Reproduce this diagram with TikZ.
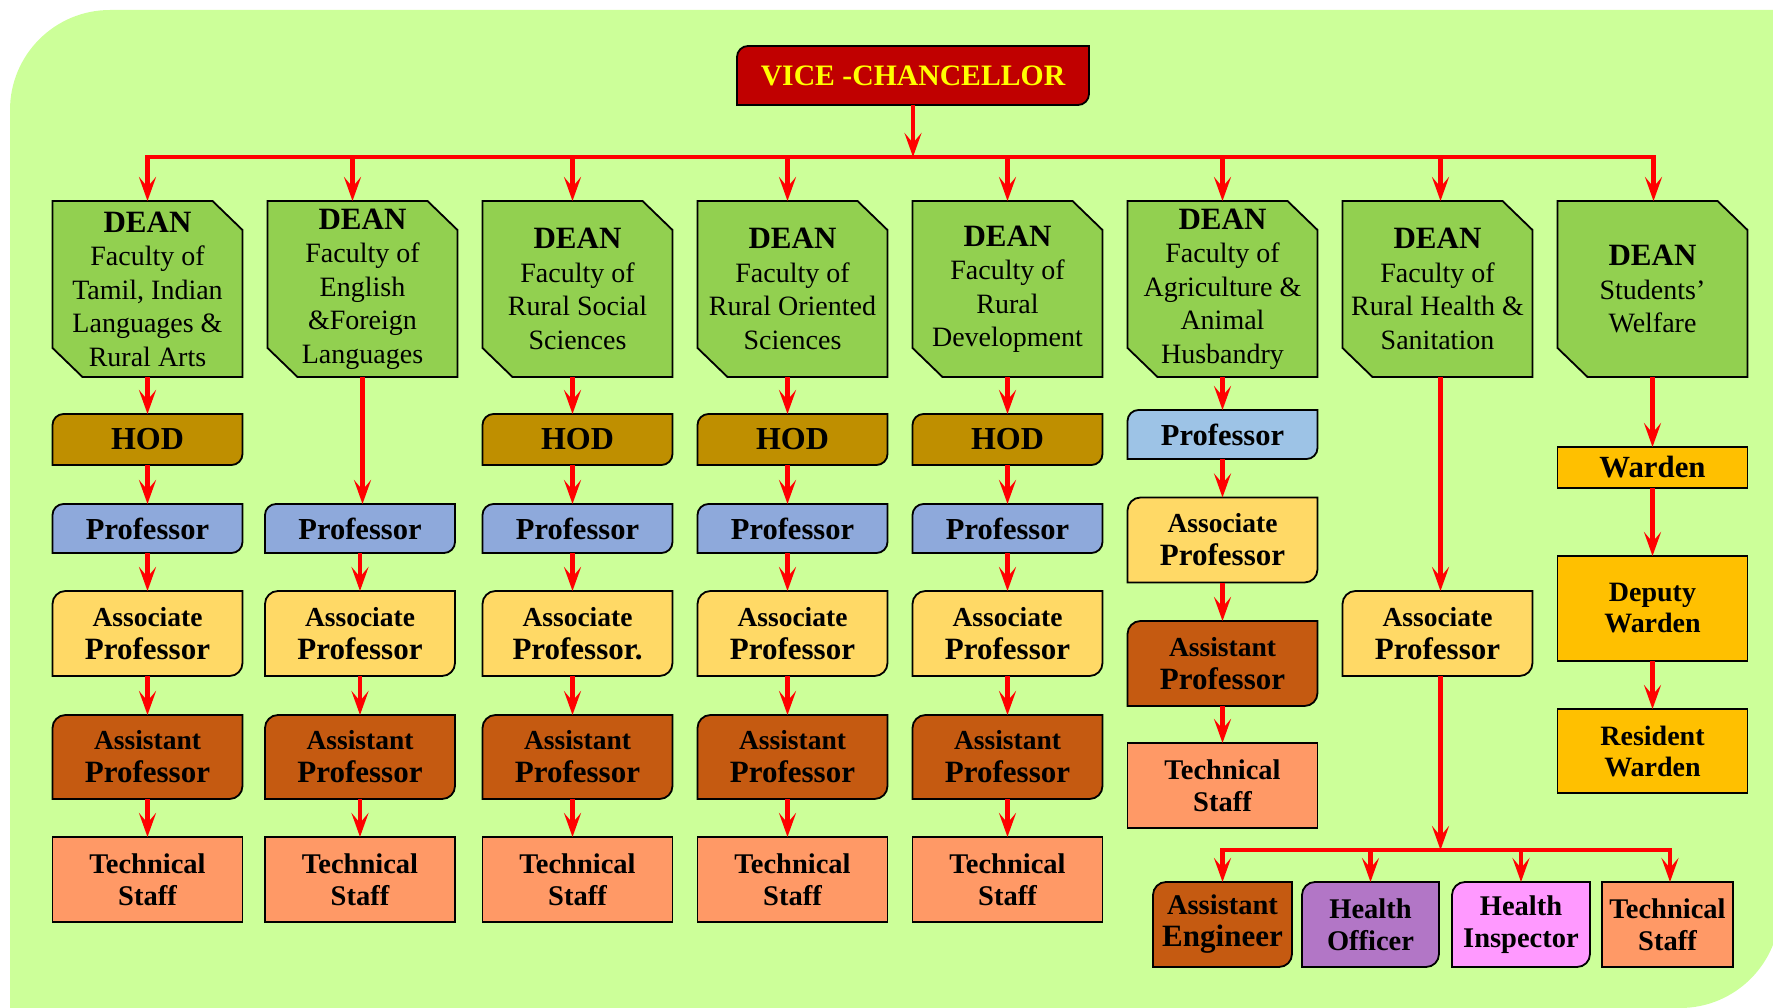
\documentclass[tikz,border=0pt]{standalone}
\usepackage{fontspec}
\setmainfont{Liberation Serif}
\usetikzlibrary{arrows.meta,calc}
\definecolor{bgc}{HTML}{CCFF99}
\definecolor{vcc}{HTML}{C00000}
\definecolor{vctext}{HTML}{FFFF00}
\definecolor{deanc}{HTML}{92D050}
\definecolor{hodc}{HTML}{BF8F00}
\definecolor{profc}{HTML}{8EA9DB}
\definecolor{profb}{HTML}{9DC3E6}
\definecolor{assocc}{HTML}{FFD966}
\definecolor{asstc}{HTML}{C55A11}
\definecolor{techc}{HTML}{FF9966}
\definecolor{wardc}{HTML}{FFC000}
\definecolor{hoc}{HTML}{B276C6}
\definecolor{hic}{HTML}{FF99FF}
\definecolor{arrred}{HTML}{FF0000}
\pgfdeclarelayer{bglayer}
\pgfdeclarelayer{boxlayer}
\pgfsetlayers{bglayer,boxlayer,main}
\tikzset{
  bx/.style={inner sep=0pt, outer sep=0pt, align=center, minimum width=190pt, text=black},
  deanbox/.style={bx, minimum height=176pt, font=\fontsize{28}{33.5}\selectfont},
  hodbox/.style={bx, minimum height=51pt, font=\bfseries\fontsize{32}{33}\selectfont},
  profbox/.style={bx, minimum height=49pt, font=\bfseries\fontsize{30.5}{33}\selectfont},
  twobox/.style={bx, minimum height=85pt, font=\bfseries\fontsize{27.5}{33}\selectfont},
  techbox/.style={bx, minimum height=85pt, font=\bfseries\fontsize{28.5}{32}\selectfont},
  lowbox/.style={bx, minimum height=85pt, font=\bfseries\fontsize{28.5}{32}\selectfont},
  wardbox/.style={bx, font=\bfseries\fontsize{28}{31}\selectfont},
  arr/.style={draw=arrred, line width=4.5pt, -{Stealth[length=24pt,width=17pt,inset=10pt]}},
  rl/.style={draw=arrred, line width=4.5pt, line cap=rect},
  boxline/.style={draw=black, line width=1.8pt, line join=miter},
}
\newcommand\tlbr[3]{%
  \draw[boxline,fill=#2] (#1.south west) -- ([yshift=-#3]#1.north west)
    arc[start angle=180,end angle=90,radius=#3] -- (#1.north east)
    -- ([yshift=#3]#1.south east) arc[start angle=0,end angle=-90,radius=#3] -- cycle;}
\newcommand\chambox[2]{%
  \draw[boxline,fill=#2] ([yshift=29pt]#1.south west) -- (#1.north west)
    -- ([xshift=-30pt]#1.north east) -- ([yshift=-29pt]#1.north east)
    -- (#1.south east) -- ([xshift=30pt]#1.south west) -- cycle;}
\newcommand\plainbox[2]{%
  \draw[boxline,fill=#2] (#1.south west) rectangle (#1.north east);}
\newcommand\HL[1]{{\fontsize{31}{33}\selectfont #1}}
\newcommand\DN{{\bfseries\fontsize{31}{33.5}\selectfont DEAN}}
\begin{document}
\begin{tikzpicture}[x=1pt,y=1pt]
\useasboundingbox (0,0) rectangle (1773,-1008);
% ---------- nodes
\node[bx, minimum width=352pt, minimum height=59pt, text=vctext,
      font=\bfseries\fontsize{29.7}{34}\selectfont] (vc) at (913,-75.5) {VICE -CHANCELLOR};
\node[deanbox] (d1) at (147.5,-289) {\DN\\Faculty of\\Tamil, Indian\\Languages \&\\Rural Arts};
\node[deanbox] (d2) at (362.5,-289) {\DN\\Faculty of\\English\\\&Foreign\\Languages};
\node[deanbox] (d3) at (577.5,-289) {\DN\\Faculty of\\Rural Social\\Sciences};
\node[deanbox] (d4) at (792.5,-289) {\DN\\Faculty of\\Rural Oriented\\Sciences};
\node[deanbox] (d5) at (1007.5,-289) {\DN\\Faculty of\\Rural\\Development};
\node[deanbox] (d6) at (1222.5,-289) {\DN\\Faculty of\\Agriculture \&\\Animal\\Husbandry};
\node[deanbox] (d7) at (1437.5,-289) {\DN\\Faculty of\\Rural Health \&\\Sanitation};
\node[deanbox] (d8) at (1652.5,-289) {\DN\\Students’\\Welfare};
% HOD
\node[hodbox] (h1) at (147.5,-439.5) {HOD};
\node[hodbox] (h3) at (577.5,-439.5) {HOD};
\node[hodbox] (h4) at (792.5,-439.5) {HOD};
\node[hodbox] (h5) at (1007.5,-439.5) {HOD};
% Professor
\node[profbox] (p1) at (147.5,-528.5) {Professor};
\node[profbox] (p2) at (360,-528.5) {Professor};
\node[profbox] (p3) at (577.5,-528.5) {Professor};
\node[profbox] (p4) at (792.5,-528.5) {Professor};
\node[profbox] (p5) at (1007.5,-528.5) {Professor};
\node[profbox] (p6) at (1222.5,-434.5) {Professor};
% Associate
\node[twobox] (a1) at (147.5,-633.5) {Associate\\\HL{Professor}};
\node[twobox] (a2) at (360,-633.5) {Associate\\\HL{Professor}};
\node[twobox] (a3) at (577.5,-633.5) {Associate\\\HL{Professor.}};
\node[twobox] (a4) at (792.5,-633.5) {Associate\\\HL{Professor}};
\node[twobox] (a5) at (1007.5,-633.5) {Associate\\\HL{Professor}};
\node[twobox] (a6) at (1222.5,-540) {Associate\\\HL{Professor}};
\node[twobox] (a7) at (1437.5,-633.5) {Associate\\\HL{Professor}};
% Assistant
\node[twobox, minimum height=84pt] (s1) at (147.5,-757) {Assistant\\\HL{Professor}};
\node[twobox, minimum height=84pt] (s2) at (360,-757) {Assistant\\\HL{Professor}};
\node[twobox, minimum height=84pt] (s3) at (577.5,-757) {Assistant\\\HL{Professor}};
\node[twobox, minimum height=84pt] (s4) at (792.5,-757) {Assistant\\\HL{Professor}};
\node[twobox, minimum height=84pt] (s5) at (1007.5,-757) {Assistant\\\HL{Professor}};
\node[twobox] (s6) at (1222.5,-663.5) {Assistant\\\HL{Professor}};
% Technical
\node[techbox] (t1) at (147.5,-879.5) {Technical\\Staff};
\node[techbox] (t2) at (360,-879.5) {Technical\\Staff};
\node[techbox] (t3) at (577.5,-879.5) {Technical\\Staff};
\node[techbox] (t4) at (792.5,-879.5) {Technical\\Staff};
\node[techbox] (t5) at (1007.5,-879.5) {Technical\\Staff};
\node[techbox] (t6) at (1222.5,-785.5) {Technical\\Staff};
% bottom row
\node[lowbox, minimum width=139pt] (ae) at (1222.5,-924.5) {Assistant\\{\fontsize{31}{32}\selectfont Engineer}};
\node[lowbox, minimum width=137pt] (ho) at (1370.5,-924.5) {Health\\Officer};
\node[lowbox, minimum width=138pt] (hi) at (1521,-924.5) {Health\\Inspector};
\node[lowbox, minimum width=131pt] (ts) at (1667.5,-924.5) {Technical\\Staff};
% wardens
\node[wardbox, minimum height=41pt, font=\bfseries\fontsize{30.8}{33}\selectfont] (wa) at (1652.5,-467.5) {Warden};
\node[wardbox, minimum height=105pt] (dw) at (1652.5,-608.5) {Deputy\\Warden};
\node[wardbox, minimum height=84pt] (rw) at (1652.5,-751) {Resident\\Warden};
% ---------- shapes
\begin{pgfonlayer}{bglayer}
\fill[bgc] (10,-1008) -- (10,-110) arc[start angle=180,end angle=90,radius=100]
  -- (1780,-10) -- (1780,-908) arc[start angle=0,end angle=-90,radius=100] -- cycle;
\end{pgfonlayer}
\begin{pgfonlayer}{boxlayer}
\tlbr{vc}{vcc}{11pt}
\foreach \n in {d1,d2,d3,d4,d5,d6,d7,d8} {\chambox{\n}{deanc}}
\foreach \n in {h1,h3,h4,h5} {\tlbr{\n}{hodc}{11pt}}
\foreach \n in {p1,p2,p3,p4,p5} {\tlbr{\n}{profc}{11pt}}
\tlbr{p6}{profb}{11pt}
\foreach \n in {a1,a2,a3,a4,a5,a6,a7} {\tlbr{\n}{assocc}{13pt}}
\foreach \n in {s1,s2,s3,s4,s5,s6,ae} {\tlbr{\n}{asstc}{13pt}}
\foreach \n in {t1,t2,t3,t4,t5,t6,ts} {\plainbox{\n}{techc}}
\tlbr{ho}{hoc}{13pt}
\tlbr{hi}{hic}{13pt}
\foreach \n in {wa,dw,rw} {\plainbox{\n}{wardc}}
\end{pgfonlayer}
% ---------- connectors
\coordinate (bus) at (0,-157);
\coordinate (bus2) at (0,-850);
\coordinate (k1) at (d1.north);
\coordinate (k2) at ([xshift=-10pt]d2.north);
\coordinate (k3) at ([xshift=-5pt]d3.north);
\coordinate (k4) at ([xshift=-5pt]d4.north);
\coordinate (k5) at (d5.north);
\coordinate (k6) at (d6.north);
\coordinate (k7) at ([xshift=3pt]d7.north);
\coordinate (k8) at ([xshift=1pt]d8.north);
\draw[rl] (k1 |- bus) -- (k8 |- bus);
\draw[arr] (vc.south) -- (vc.south |- bus);
\foreach \k in {k1,k2,k3,k4,k5,k6,k7,k8} {\draw[arr] (\k |- bus) -- (\k);}
% column 1
\draw[arr] (d1.south) -- (h1.north);
\draw[arr] (h1.south) -- (p1.north);
\draw[arr] (p1.south) -- (a1.north);
\draw[arr] (a1.south) -- (s1.north);
\draw[arr] (s1.south) -- (t1.north);
% column 2
\draw[arr] (d2.south) -- (d2.south |- p2.north);
\draw[arr] (p2.south) -- (a2.north);
\draw[arr] (a2.south) -- (s2.north);
\draw[arr] (s2.south) -- (t2.north);
% columns 3,4
\foreach \c in {3,4} {
  \draw[arr] ([xshift=-5pt]d\c.south) -- ([xshift=-5pt]h\c.north);
  \draw[arr] ([xshift=-5pt]h\c.south) -- ([xshift=-5pt]p\c.north);
  \draw[arr] ([xshift=-5pt]p\c.south) -- ([xshift=-5pt]a\c.north);
  \draw[arr] ([xshift=-5pt]a\c.south) -- ([xshift=-5pt]s\c.north);
  \draw[arr] ([xshift=-5pt]s\c.south) -- ([xshift=-5pt]t\c.north);
}
% column 5
\draw[arr] (d5.south) -- (h5.north);
\draw[arr] (h5.south) -- (p5.north);
\draw[arr] (p5.south) -- (a5.north);
\draw[arr] (a5.south) -- (s5.north);
\draw[arr] (s5.south) -- (t5.north);
% column 6
\draw[arr] (d6.south) -- (p6.north);
\draw[arr] (p6.south) -- (a6.north);
\draw[arr] (a6.south) -- (s6.north);
\draw[arr] (s6.south) -- (t6.north);
% column 7
\coordinate (m7) at ([xshift=3pt]a7.south);
\draw[arr] ([xshift=3pt]d7.south) -- ([xshift=3pt]a7.north);
\draw[rl] (ae.north |- bus2) -- ([xshift=2.5pt]ts.north |- bus2);
\draw[arr] (m7) -- (m7 |- bus2);
\foreach \b in {ae,ho,hi} {\draw[arr] (\b.north |- bus2) -- (\b.north);}
\coordinate (m8) at ([xshift=2.5pt]ts.north);
\draw[arr] (m8 |- bus2) -- (m8);
% column 8
\draw[arr] (d8.south) -- (wa.north);
\draw[arr] (wa.south) -- (dw.north);
\draw[arr] (dw.south) -- (rw.north);
\end{tikzpicture}
\end{document}
